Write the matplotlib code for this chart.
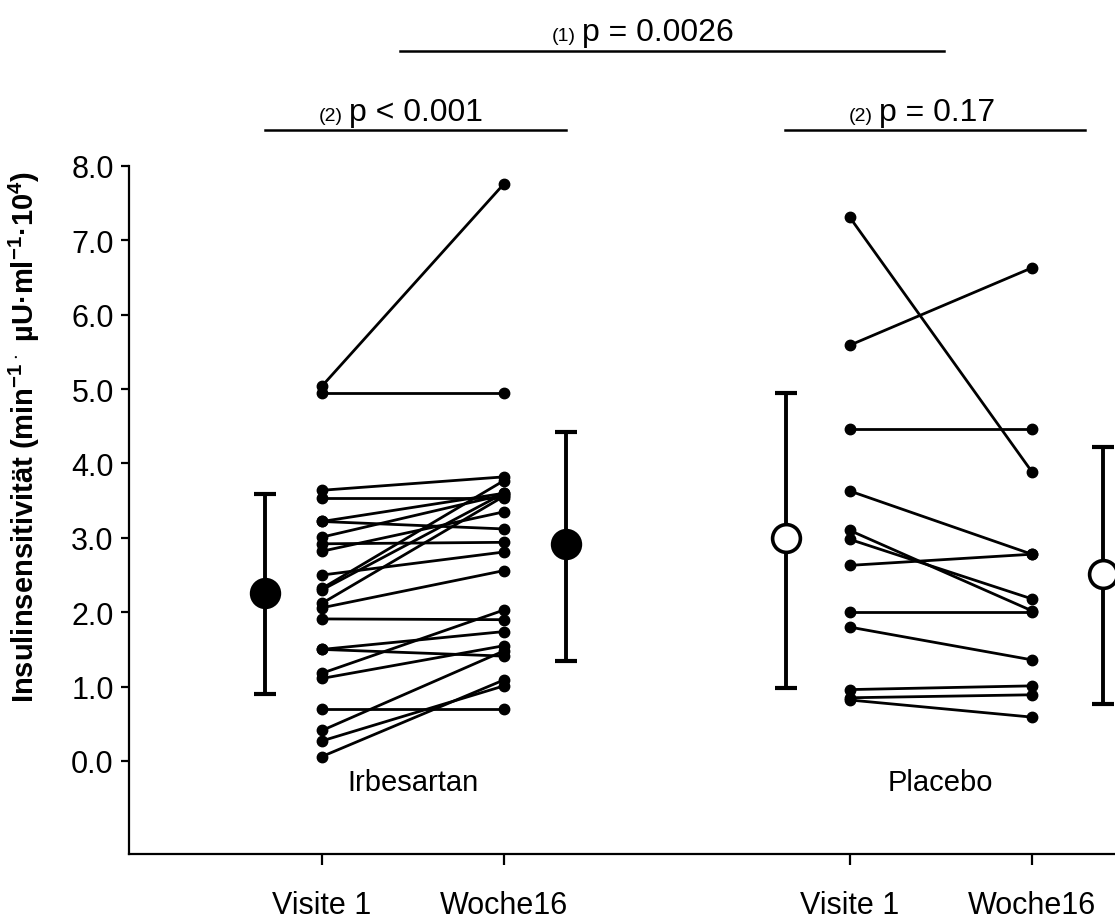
import matplotlib
matplotlib.use("Agg")
import matplotlib.pyplot as plt
import numpy as np

plt.rcParams['font.family'] = ['Liberation Sans', 'DejaVu Sans']
plt.rcParams['mathtext.fontset'] = 'custom'
plt.rcParams['mathtext.rm'] = 'Liberation Sans'
plt.rcParams['mathtext.bf'] = 'Liberation Sans:bold'
plt.rcParams['mathtext.default'] = 'bf'

# Einzelwerte (Visite 1 -> Woche 16)
irb_v1 = [5.04, 4.95, 3.64, 3.53, 3.22, 3.22, 3.01, 2.92, 2.82, 2.50, 2.32, 2.30,
          2.12, 2.06, 1.91, 1.50, 1.50, 1.18, 1.11, 0.70, 0.41, 0.27, 0.06]
irb_w16 = [7.76, 4.95, 3.82, 3.53, 3.60, 3.12, 3.58, 2.94, 3.35, 2.81, 3.77, 3.60,
           3.56, 2.56, 1.90, 1.74, 1.41, 2.03, 1.55, 0.70, 1.48, 1.01, 1.09]
pla_v1 = [7.31, 5.59, 4.46, 3.63, 3.10, 2.98, 2.63, 2.00, 1.80, 0.96, 0.85, 0.82]
pla_w16 = [3.89, 6.63, 4.46, 2.78, 2.02, 2.18, 2.78, 2.00, 1.36, 1.01, 0.89, 0.59]

# Mittelwerte mit Fehlerbalken
mean_vals = [2.26, 2.92, 3.00, 2.51]
err_low = [0.90, 1.35, 0.98, 0.77]
err_high = [3.59, 4.42, 4.95, 4.22]
mean_filled = [True, True, False, False]

tick_pos = [1, 2, 3.9, 4.9]
tick_labels = ['Visite 1', 'Woche16', 'Visite 1', 'Woche16']
mean_pos = [0.687, 2.34, 3.55, 5.29]

fig = plt.figure(figsize=(11.15, 9.2), dpi=100)
ax = fig.add_axes([0.1157, 0.0707, 0.8843, 0.7478])

for a, b in zip(irb_v1, irb_w16):
    ax.plot([tick_pos[0], tick_pos[1]], [a, b], '-o', color='black', lw=2.0, ms=7.5)
for a, b in zip(pla_v1, pla_w16):
    ax.plot([tick_pos[2], tick_pos[3]], [a, b], '-o', color='black', lw=2.0, ms=7.5)

for x, m, lo, hi, filled in zip(mean_pos, mean_vals, err_low, err_high, mean_filled):
    ax.errorbar([x], [m], yerr=[[m - lo], [hi - m]], fmt='none', ecolor='black',
                elinewidth=2.8, capsize=8, capthick=3.0, clip_on=False)
    ax.plot([x], [m], 'o', ms=20, mec='black', mew=2.6,
            mfc='black' if filled else 'white', clip_on=False, zorder=5)

ax.text(1.5, -0.28, 'Irbesartan', ha='center', va='center', fontsize=21)
ax.text(4.4, -0.28, 'Placebo', ha='center', va='center', fontsize=21)

# Signifikanz-Angaben
def pbar(x1, x2, y_line, y_text, xa, num, ptxt):
    ax.plot([x1, x2], [y_line, y_line], color='black', lw=1.8, clip_on=False)
    ax.annotate(num, (xa, y_text), xytext=(-2, 0), textcoords='offset points',
                ha='right', va='baseline', fontsize=14, annotation_clip=False)
    ax.annotate(ptxt, (xa, y_text), xytext=(2, 0), textcoords='offset points',
                ha='left', va='baseline', fontsize=23, annotation_clip=False)

pbar(1.43, 4.42, 9.54, 9.70, 2.412, '(1)', 'p = 0.0026')
pbar(0.687, 2.34, 8.48, 8.62, 1.132, '(2)', 'p < 0.001')
pbar(3.545, 5.19, 8.48, 8.62, 4.044, '(2)', 'p = 0.17')

ax.set_xlim(-0.06, 5.357)
ax.set_ylim(-1.25, 8.0)
ax.set_yticks(np.arange(0, 9, 1))
ax.set_yticklabels(['%.1f' % v for v in np.arange(0, 9, 1)], fontsize=22)
ax.set_xticks(tick_pos)
ax.set_xticklabels(tick_labels, fontsize=22)
ax.tick_params(axis='y', direction='out', length=6, width=1.6, pad=5)
ax.tick_params(axis='x', direction='out', length=8, width=1.6, pad=18)

ax.spines['top'].set_visible(False)
ax.spines['right'].set_visible(False)
ax.spines['left'].set_linewidth(1.6)
ax.spines['bottom'].set_linewidth(1.6)

ax.set_ylabel(r'Insulinsensitivität (min$^{-1\cdot}$ µU·ml$^{-1}$·10$^{4}$)',
              fontsize=21, fontweight='bold')
ax.yaxis.set_label_coords(-0.088, 0.607)

fig.savefig('out.png', dpi=100)
